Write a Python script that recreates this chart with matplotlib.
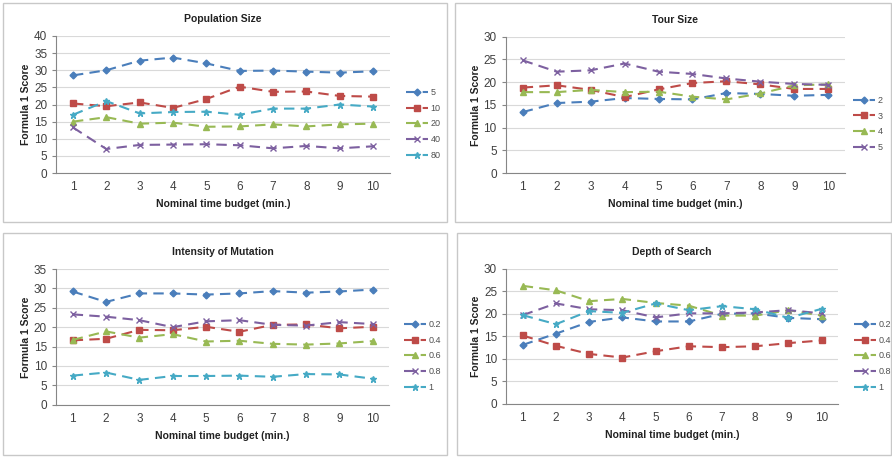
import matplotlib.pyplot as plt
from matplotlib.patches import Rectangle
import numpy as np

plt.rcParams['font.family'] = ['Liberation Sans', 'DejaVu Sans']

budget = [1, 2, 3, 4, 5, 6, 7, 8, 9, 10]

# Population Size
pop_labels = ['5', '10', '20', '40', '80']
pop_5 = [28.5, 30.0, 32.8, 33.7, 32.0, 29.8, 29.9, 29.6, 29.3, 29.7]
pop_10 = [20.3, 19.5, 20.6, 19.0, 21.6, 25.2, 23.7, 23.8, 22.5, 22.3]
pop_20 = [15.0, 16.3, 14.4, 14.7, 13.5, 13.6, 14.2, 13.6, 14.2, 14.4]
pop_40 = [13.3, 7.0, 8.2, 8.3, 8.4, 8.1, 7.2, 7.9, 7.2, 7.8]
pop_80 = [17.0, 21.0, 17.4, 17.8, 17.9, 17.0, 18.8, 18.8, 20.0, 19.4]

# Tour Size
tour_labels = ['2', '3', '4', '5']
tour_2 = [13.4, 15.4, 15.7, 16.5, 16.3, 16.2, 17.6, 17.4, 17.0, 17.2]
tour_3 = [18.8, 19.3, 18.3, 16.7, 18.4, 19.8, 20.2, 19.5, 18.5, 18.5]
tour_4 = [17.8, 17.8, 18.3, 17.8, 17.9, 16.8, 16.2, 17.5, 19.3, 19.5]
tour_5 = [24.8, 22.3, 22.6, 24.1, 22.3, 21.8, 20.8, 20.1, 19.6, 19.4]

# Intensity of Mutation
mut_labels = ['0.2', '0.4', '0.6', '0.8', '1']
mut_02 = [29.2, 26.5, 28.7, 28.7, 28.4, 28.7, 29.3, 28.9, 29.2, 29.7]
mut_04 = [16.6, 17.0, 19.3, 19.2, 20.1, 18.8, 20.6, 20.7, 19.7, 20.1]
mut_06 = [16.7, 18.9, 17.3, 18.2, 16.3, 16.5, 15.7, 15.5, 15.8, 16.4]
mut_08 = [23.3, 22.7, 21.8, 20.0, 21.5, 21.8, 20.6, 20.4, 21.3, 20.8]
mut_1 = [7.5, 8.3, 6.4, 7.4, 7.4, 7.5, 7.2, 7.9, 7.8, 6.7]

# Depth of Search
depth_labels = ['0.2', '0.4', '0.6', '0.8', '1']
depth_02 = [13.1, 15.6, 18.2, 19.2, 18.3, 18.3, 20.0, 20.1, 19.1, 18.8]
depth_04 = [15.2, 12.9, 11.1, 10.3, 11.7, 12.8, 12.6, 12.8, 13.5, 14.1]
depth_06 = [26.2, 25.2, 22.8, 23.3, 22.4, 21.8, 19.6, 19.6, 20.8, 19.6]
depth_08 = [19.7, 22.3, 21.0, 20.8, 19.2, 20.1, 20.1, 20.3, 20.8, 20.1]
depth_1 = [19.7, 17.7, 20.6, 20.2, 22.3, 20.8, 21.7, 21.0, 19.1, 21.1]

colors = ['#4A7EBB', '#BE4B48', '#98B954', '#7D60A0', '#46AAC5']
markers = ['D', 's', '^', 'x', '*']
msizes = [3.5, 4.5, 4.5, 4.5, 5]

W, H = 892, 457
fig = plt.figure(figsize=(W / 100, H / 100), dpi=100)

def px_axes(left, right, top, bottom):
    return fig.add_axes([left / W, 1 - bottom / H, (right - left) / W, (bottom - top) / H])

def panel(box, ax_px, title, ymax, series, labels, leg_xy):
    bx0, by0, bx1, by1 = box
    fig.patches.append(Rectangle((bx0 / W, 1 - by1 / H), (bx1 - bx0) / W, (by1 - by0) / H,
                                 transform=fig.transFigure, fill=False,
                                 edgecolor='#c8c8c8', linewidth=1.0))
    ax = px_axes(*ax_px)
    for i, vals in enumerate(series):
        ax.plot(budget, vals, color=colors[i], linestyle=(0, (5, 3)), linewidth=1.5,
                marker=markers[i], markersize=msizes[i], markeredgewidth=1.0,
                label=labels[i])
    ax.set_xlim(0.5, 10.5)
    ax.set_ylim(0, ymax)
    ax.set_yticks(np.arange(0, ymax + 1, 5))
    ax.set_xticks(budget)
    ax.grid(axis='y', color='#d9d9d9', linewidth=0.8)
    ax.set_axisbelow(True)
    for s in ['top', 'right']:
        ax.spines[s].set_visible(False)
    for s in ['left', 'bottom']:
        ax.spines[s].set_color('#868686')
        ax.spines[s].set_linewidth(0.8)
    ax.tick_params(axis='both', labelsize=8.5, colors='#868686', labelcolor='#404040',
                   length=3, width=0.8)
    ax.tick_params(axis='x', length=0, pad=6)
    ax.set_title(title, fontsize=7.5, fontweight='bold', color='#222222', pad=10)
    ax.set_xlabel('Nominal time budget (min.)', fontsize=7.5, fontweight='bold',
                  color='#222222', labelpad=4)
    ax.set_ylabel('Formula 1 Score', fontsize=7.5, fontweight='bold', color='#222222',
                  labelpad=2)
    leg = ax.legend(loc='center left', frameon=False, fontsize=6.5,
                    handlelength=2.4, labelspacing=0.75, handletextpad=0.3,
                    bbox_to_anchor=(leg_xy[0] / W, 1 - leg_xy[1] / H),
                    bbox_transform=fig.transFigure)
    for t in leg.get_texts():
        t.set_color('#505050')
    return ax

panel((3, 3, 447, 222), (56.3, 389.7, 36, 173), 'Population Size', 40,
      [pop_5, pop_10, pop_20, pop_40, pop_80], pop_labels, (398, 124))
panel((455, 3, 891, 222), (505.7, 845.3, 36.7, 173), 'Tour Size', 30,
      [tour_2, tour_3, tour_4, tour_5], tour_labels, (845, 124))
panel((3, 233, 447, 455), (56.0, 389.3, 269, 404.7), 'Intensity of Mutation', 35,
      [mut_02, mut_04, mut_06, mut_08, mut_1], mut_labels, (396, 356))
panel((457, 233, 891, 455), (506.1, 838.3, 268.7, 404), 'Depth of Search', 30,
      [depth_02, depth_04, depth_06, depth_08, depth_1], depth_labels, (846, 356))

fig.savefig('out.png', dpi=100, facecolor='white')
